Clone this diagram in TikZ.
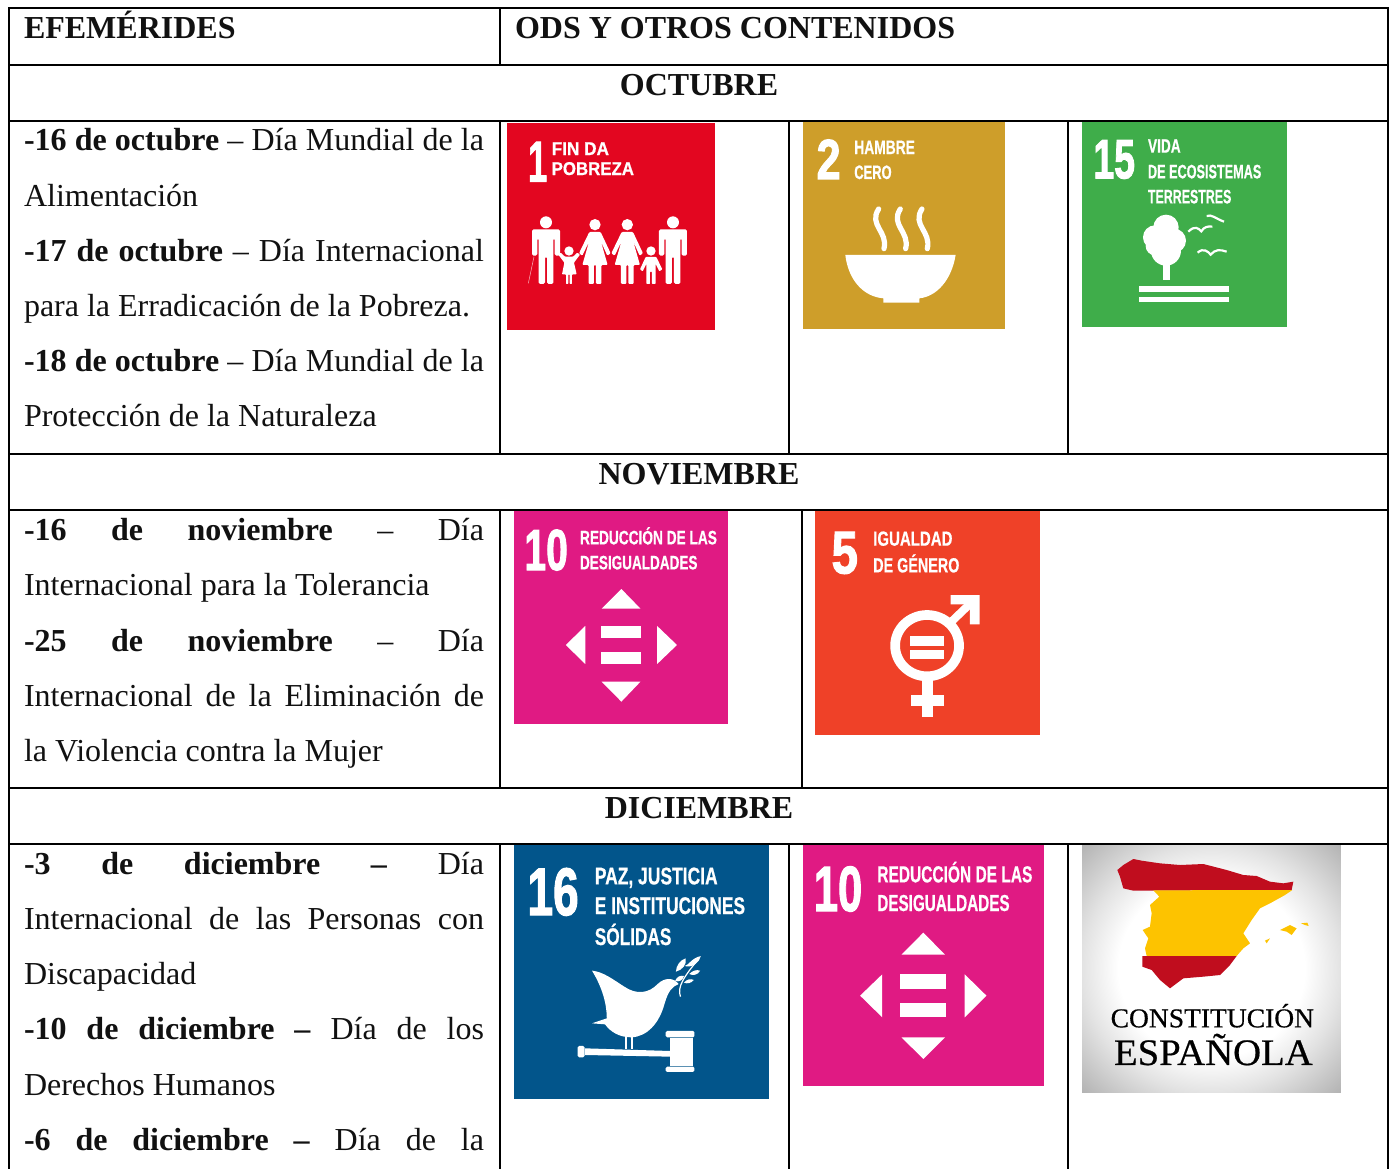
\documentclass[tikz,border=0pt]{standalone}
\usepackage{fontspec}
\usepackage{graphicx}
\setmainfont{Liberation Serif}
\newfontface\sdgfont{Liberation Sans Bold}[FakeBold=0.7]
\newfontface\sdgnum{Liberation Sans Bold}[FakeBold=2]
\newfontface\serfont{Liberation Serif}[FakeBold=0.5]
\definecolor{rulec}{HTML}{000000}
\definecolor{txtc}{HTML}{111111}
\definecolor{sdgA}{HTML}{E30620}
\definecolor{sdgB}{HTML}{CE9E2A}
\definecolor{sdgC}{HTML}{3FAD4A}
\definecolor{sdgD}{HTML}{E01A83}
\definecolor{sdgE}{HTML}{EF4128}
\definecolor{sdgF}{HTML}{02558B}
\definecolor{spR}{HTML}{C00D1E}
\definecolor{spY}{HTML}{FDC300}
\pgfdeclareradialshading{vign}{\pgfpoint{0bp}{0bp}}{color(0bp)=(white); color(18bp)=(white); color(25bp)=(black!11); color(35.4bp)=(black!30); color(50bp)=(black!30)}
\tikzset{
  tabrule/.style={line width=2pt,draw=rulec,line cap=rect},
  cell/.style={inner sep=0pt,outer sep=0pt,text=txtc,anchor=base west,font=\fontsize{32}{38}\selectfont},
  head/.style={inner sep=0pt,outer sep=0pt,text=txtc,anchor=base,font=\fontsize{32}{38}\selectfont\bfseries},
  icontxt/.style={inner sep=0pt,outer sep=0pt,text=white,anchor=base west},
  icon/.style n args={3}{shift={(#1,#2)},x=#3pt,y=-.3333pt},
}
\newcommand{\jl}[1]{\hbox to 460pt{#1}}
\def\zx{.3333}
% name, x, baseline, width, cap height, text: all in zoom units
\newcommand{\ilabel}[6]{\node[icontxt] (#1) at (#2,#3) {\resizebox{\dimexpr\zx\dimexpr #4pt\relax\relax}{\dimexpr #5pt/3\relax}{\sdgfont\raisebox{0pt}[.72em][0pt]{#6}}};}
\newcommand{\inum}[6]{\node[icontxt] (#1) at (#2,#3) {\resizebox{\dimexpr\zx\dimexpr #4pt\relax\relax}{\dimexpr #5pt/3\relax}{\sdgnum\raisebox{0pt}[.72em][0pt]{#6}}};}
\newcommand{\slabel}[6]{\node[icontxt,text=black] (#1) at (#2,#3) {\resizebox{\dimexpr #4pt/3\relax}{\dimexpr #5pt/3\relax}{\serfont\raisebox{0pt}[.66em][0pt]{#6}}};}
\begin{document}
\begin{tikzpicture}[x=1pt,y=-1pt]
\useasboundingbox (0,0) rectangle (1389,1168);
\fill[white] (0,0) rectangle (1389,1168);

% ---------- table rules
\foreach \yy in {8,65,121,454,510,788,844}{\draw[tabrule] (9,\yy) -- (1388,\yy);}
\draw[tabrule] (9,8) -- (9,1168);
\draw[tabrule] (1388,8) -- (1388,1168);
\draw[tabrule] (500,8) -- (500,65);
\draw[tabrule] (500,121) -- (500,454);
\draw[tabrule] (500,510) -- (500,788);
\draw[tabrule] (500,844) -- (500,1168);
\draw[tabrule] (789,121) -- (789,454);
\draw[tabrule] (1068,121) -- (1068,454);
\draw[tabrule] (801.5,510) -- (801.5,788);
\draw[tabrule] (789,844) -- (789,1168);
\draw[tabrule] (1068,844) -- (1068,1168);

% ---------- headers
\node[cell,font=\fontsize{32}{38}\selectfont\bfseries] (hA) at (24,38) {EFEMÉRIDES};
\node[cell,font=\fontsize{32}{38}\selectfont\bfseries] (hB) at (515,38) {ODS Y OTROS CONTENIDOS};
\node[head] (mA) at (699,95) {OCTUBRE};
\node[head] (mB) at (699,484) {NOVIEMBRE};
\node[head] (mC) at (699,818) {DICIEMBRE};

% ---------- left column
\node[cell] (a1) at (24,150) {\jl{\textbf{-16 de octubre} – Día Mundial de la}};
\node[cell] (a2) at (24,206) {Alimentación};
\node[cell] (a3) at (24,261) {\jl{\textbf{-17 de octubre} – Día Internacional}};
\node[cell] (a4) at (24,316) {para la Erradicación de la Pobreza.};
\node[cell] (a5) at (24,371) {\jl{\textbf{-18 de octubre} – Día Mundial de la}};
\node[cell] (a6) at (24,426) {Protección de la Naturaleza};

\node[cell] (b1) at (24,540) {\jl{\textbf{-16 de noviembre} – Día}};
\node[cell] (b2) at (24,595) {Internacional para la Tolerancia};
\node[cell] (b3) at (24,651) {\jl{\textbf{-25 de noviembre} – Día}};
\node[cell] (b4) at (24,706) {\jl{Internacional de la Eliminación de}};
\node[cell] (b5) at (24,761) {la Violencia contra la Mujer};

\node[cell] (c1) at (24,874) {\jl{\textbf{-3 de diciembre –} Día}};
\node[cell] (c2) at (24,929) {\jl{Internacional de las Personas con}};
\node[cell] (c3) at (24,984) {Discapacidad};
\node[cell] (c4) at (24,1039) {\jl{\textbf{-10 de diciembre –} Día de los}};
\node[cell] (c5) at (24,1095) {Derechos Humanos};
\node[cell] (c6) at (24,1150) {\jl{\textbf{-6 de diciembre –} Día de la}};

% ---------- SDG 1 and 2 (zoom origin 500,110)
\begin{scope}[icon={500}{110}{.3333}]
\fill[sdgA] (22,38) rectangle (645,660);
\inum{i1n}{84}{215}{58}{125}{1}
\ilabel{i1a}{155}{135}{172}{40}{FIN DA}
\ilabel{i1b}{155}{195}{247}{40}{POBREZA}
\begin{scope}[white]
\foreach \cx in {138,519}{
 \fill (\cx,337) circle [radius=18];
 \fill[rounded corners=1.5pt] (\cx-42,358) -- (\cx+42,358) -- (\cx+42,437) -- (\cx+26,437) -- (\cx+26,385) -- (\cx+22,385) -- (\cx+22,522) -- (\cx+3,522) -- (\cx+3,440) -- (\cx-3,440) -- (\cx-3,522) -- (\cx-22,522) -- (\cx-22,385) -- (\cx-26,385) -- (\cx-26,437) -- (\cx-42,437) -- cycle;
}
\foreach \cx in {285,382}{
 \fill (\cx,344) circle [radius=17];
 \fill[rounded corners=1pt] (\cx-17,366) -- (\cx+17,366) -- (\cx+47,430) -- (\cx+37,437) -- (\cx+18,395) -- (\cx+38,465) -- (\cx+19,465) -- (\cx+19,522) -- (\cx+3,522) -- (\cx+3,465) -- (\cx-3,465) -- (\cx-3,522) -- (\cx-19,522) -- (\cx-19,465) -- (\cx-38,465) -- (\cx-18,395) -- (\cx-38,437) -- (\cx-48,430) -- cycle;
}
\fill (207,423) circle [radius=14];
\fill[rounded corners=.7pt] (195,440) -- (219,440) -- (232,428) -- (240,434) -- (222,458) -- (230,493) -- (216,493) -- (216,522) -- (209,522) -- (209,493) -- (205,493) -- (205,522) -- (198,522) -- (198,493) -- (186,493) -- (193,458) -- (175,434) -- (182,428) -- cycle;
\fill (453,423) circle [radius=14];
\fill[rounded corners=.7pt] (437,441) -- (469,441) -- (487,478) -- (478,484) -- (467,462) -- (467,522) -- (456,522) -- (456,485) -- (450,485) -- (450,522) -- (439,522) -- (439,462) -- (428,484) -- (420,478) -- cycle;
\draw[white!70!sdgA,line width=.5pt] (102,440) -- (85,520);
\end{scope}

\fill[sdgB] (908,35) rectangle (1515,657);
\inum{i2n}{950}{207}{72}{122}{2}
\ilabel{i2a}{1063}{132}{182}{42}{HAMBRE}
\ilabel{i2b}{1063}{207}{112}{42}{CERO}
\fill[white] (1036,435) -- (1367,435) .. controls (1355,510) and (1310,560) .. (1258,565) -- (1258,578) -- (1150,578) -- (1150,565) .. controls (1090,560) and (1045,510) .. (1036,435) -- cycle;
\foreach \dx in {0,65,130}{
 \draw[white,line width=5.2pt,line cap=round] (1136+\dx,297) .. controls (1105+\dx,345) and (1165+\dx,365) .. (1152+\dx,416);
}
\end{scope}

% ---------- SDG 15 (zoom origin 1060,110)
\begin{scope}[icon={1060}{110}{.3333}]
\fill[sdgC] (66,35) rectangle (682,650);
\inum{i3n}{100}{205}{125}{120}{15}
\ilabel{i3a}{264}{128}{98}{42}{VIDA}
\ilabel{i3b}{264}{205}{340}{42}{DE ECOSISTEMAS}
\ilabel{i3c}{264}{280}{250}{42}{TERRESTRES}
\fill[white] (318,352) circle [radius=38] (285,382) circle [radius=36] (342,392) circle [radius=36] (318,422) circle [radius=45] (285,408) circle [radius=28];
\fill[white] (310,465) rectangle (330,510);
\fill[white] (238,527) rectangle (506,545);
\fill[white] (238,560) rectangle (506,577);
\draw[white,line width=2.2pt] (440,318) .. controls (455,312) and (465,325) .. (492,335);
\draw[white,line width=2.2pt] (385,365) .. controls (405,345) and (415,355) .. (424,364) .. controls (432,350) and (445,348) .. (457,350);
\draw[white,line width=2.2pt] (413,428) .. controls (430,412) and (445,425) .. (452,434) .. controls (465,418) and (480,418) .. (500,425);
\end{scope}

% ---------- SDG 10 and 5 (zoom origin 505,505)
\begin{scope}[icon={505}{505}{.3474}]
\def\zx{.3474}
\fill[sdgD] (27,17) rectangle (642,657);
\inum{i4n}{56}{195}{125}{125}{10}
\ilabel{i4a}{216}{118}{394}{42}{REDUCCIÓN DE LAS}
\ilabel{i4b}{216}{193}{338}{42}{DESIGUALDADES}
\fill[white] (335,252) -- (278,311) -- (390,311) -- cycle;
\fill[white] (175,420) -- (231,363) -- (231,477) -- cycle;
\fill[white] (495,420) -- (438,363) -- (438,477) -- cycle;
\fill[white] (335,590) -- (278,530) -- (390,530) -- cycle;
\fill[white] (276,363) rectangle (392,400);
\fill[white] (276,440) rectangle (392,477);

\fill[sdgE] (892,17) rectangle (1539,690);
\inum{i5n}{940}{205}{76}{130}{5}
\ilabel{i5a}{1060}{122}{228}{44}{IGUALDAD}
\ilabel{i5b}{1060}{202}{248}{44}{DE GÉNERO}
\draw[white,line width=9.7pt] (1215,422) circle [radius=92];
\fill[white] (1165,393) rectangle (1265,422);
\fill[white] (1165,435) rectangle (1265,462);
\fill[white] (1200,525) rectangle (1232,635);
\fill[white] (1168,570) rectangle (1265,602);
\draw[white,line width=8pt] (1285,350) -- (1348,287);
\fill[white] (1283,270) -- (1366,270) -- (1366,358) -- (1338,358) -- (1338,298) -- (1283,298) -- cycle;
\end{scope}

% ---------- SDG 16 and 10 (zoom origin 505,840)
\begin{scope}[icon={505}{840}{.3509}]
\def\zx{.3509}
\fill[sdgF] (27,15) rectangle (752,777);
\inum{i6n}{64}{225}{146}{145}{16}
\ilabel{i6a}{256}{133}{350}{52}{PAZ, JUSTICIA}
\ilabel{i6b}{256}{222}{428}{52}{E INSTITUCIONES}
\ilabel{i6c}{256}{315}{218}{52}{SÓLIDAS}
\fill[white] (248,392) .. controls (280,395) and (310,420) .. (340,440) .. controls (375,465) and (410,460) .. (435,432) .. controls (455,412) and (480,412) .. (495,432) .. controls (475,440) and (465,455) .. (455,490) .. controls (440,550) and (405,590) .. (360,592) .. controls (325,592) and (300,575) .. (285,553) -- (248,550) -- (290,535) .. controls (290,480) and (270,430) .. (248,392) -- cycle;
\draw[white,line width=1.2pt] (500,470) .. controls (490,440) and (510,410) .. (553,355);
\fill[white] (487,395) .. controls (488,375) and (500,360) .. (515,355) .. controls (518,375) and (505,390) .. (487,395) -- cycle;
\fill[white] (512,378) .. controls (525,375) and (530,355) .. (558,348) .. controls (555,365) and (535,385) .. (512,378) -- cycle;
\fill[white] (525,402) .. controls (535,392) and (545,388) .. (556,392) .. controls (550,405) and (535,408) .. (525,402) -- cycle;
\fill[white] (485,422) .. controls (490,410) and (500,405) .. (510,408) .. controls (508,420) and (495,428) .. (485,422) -- cycle;
\fill[white] (510,428) .. controls (518,418) and (528,415) .. (538,420) .. controls (530,430) and (520,432) .. (510,428) -- cycle;
\fill[white] (343,590) rectangle (349,626);
\fill[white] (358,590) rectangle (364,626);
\fill[white,rounded corners=1.5pt] (207,618) rectangle (227,652);
\fill[white] (228,625) -- (470,633) -- (470,650) -- (228,645) -- cycle;
\fill[white] (470,593) rectangle (535,678);
\fill[white,rounded corners=1.5pt] (458,573) rectangle (540,592);
\fill[white,rounded corners=1.5pt] (458,680) rectangle (540,696);

\fill[sdgD] (849,15) rectangle (1536,737);
\inum{i7n}{880}{213}{138}{138}{10}
\ilabel{i7a}{1061}{127}{442}{50}{REDUCCIÓN DE LAS}
\ilabel{i7b}{1061}{213}{377}{50}{DESIGUALDADES}
\fill[white] (1192,278) -- (1130,344) -- (1254,344) -- cycle;
\fill[white] (1012,467) -- (1075,403) -- (1075,532) -- cycle;
\fill[white] (1372,467) -- (1310,403) -- (1310,532) -- cycle;
\fill[white] (1192,657) -- (1130,592) -- (1254,592) -- cycle;
\fill[white] (1127,403) rectangle (1257,446);
\fill[white] (1127,488) rectangle (1257,532);
\end{scope}

% ---------- Constitución (zoom origin 1070,840)
\begin{scope}[icon={1070}{840}{.3333}]
\shade[shading=vign] (36,15) rectangle (813,757);
\fill[spR] (142,90) -- (160,75) -- (190,57) -- (215,62) -- (270,70) -- (330,75) -- (400,72) -- (470,90) -- (520,105) -- (560,108) -- (600,125) -- (640,130) -- (670,125) -- (665,150) -- (250,152) -- (190,152) -- (160,145) -- (150,110) -- cycle;
\fill[spY] (250,151) -- (667,150) -- (645,165) -- (600,190) -- (570,205) -- (545,240) -- (520,280) -- (540,310) -- (520,325) -- (500,348) -- (230,348) -- (225,325) -- (235,295) -- (218,270) -- (240,260) -- (245,220) -- (240,195) -- (268,170) -- cycle;
\fill[spR] (217,348) -- (500,348) -- (480,375) -- (450,405) -- (400,410) -- (340,415) -- (300,445) -- (270,420) -- (245,390) -- (217,380) -- cycle;
\fill[spY] (630,270) -- (660,255) -- (680,265) -- (665,285) -- (650,275) -- cycle;
\fill[spY] (693,250) -- (712,248) -- (716,258) -- (705,255) -- cycle;
\fill[spY] (585,302) -- (600,295) -- (590,310) -- cycle;
\slabel{i8a}{122}{562}{610}{54}{CONSTITUCIÓN}
\slabel{i8b}{132}{675}{596}{74}{ESPAÑOLA}
\end{scope}
\end{tikzpicture}
\end{document}
